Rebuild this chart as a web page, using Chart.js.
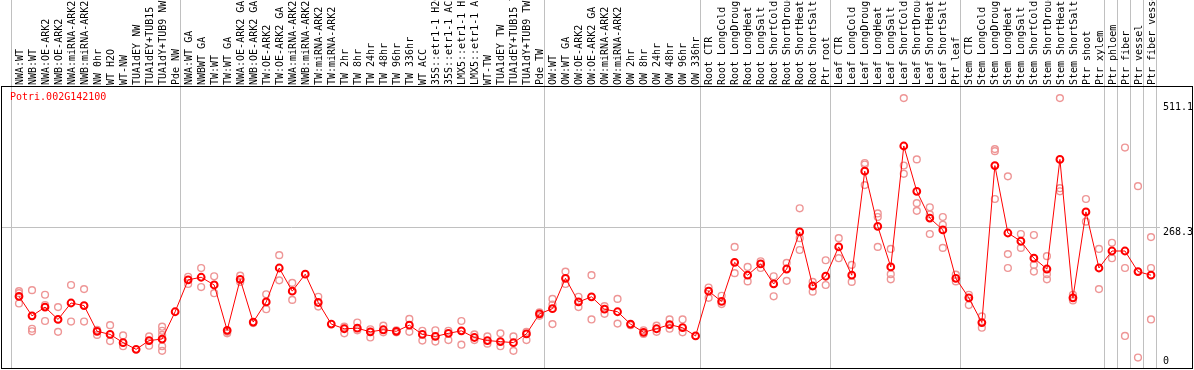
<!DOCTYPE html>
<html><head><meta charset="utf-8">
<script src="https://cdn.jsdelivr.net/npm/chart.js@4"></script>
<style>html,body{margin:0;padding:0;background:#fff}#wrap{width:1194px;height:370px}</style>
</head><body><div id="wrap"><canvas id="c" width="1194" height="370"></canvas></div>
<script>
const geneName = 'Potri.002G142100';
const categories = [
 'NWA:WT','NWB:WT','NWA:OE-ARK2','NWB:OE-ARK2','NWA:miRNA-ARK2','NWB:miRNA-ARK2','NW 0hr','WT H2O','WT-NW','TUA1dEY NW','TUA1dEY+TUB15 NW','TUA1dY+TUB9 NW','Pde NW',
 'NWA:WT GA','NWBWT GA','TW:WT','TW:WT GA','NWA:OE-ARK2 GA','NWB:OE-ARK2 GA','TW:OE-ARK2','TW:OE-ARK2 GA','NWA:miRNA-ARK2','NWB:miRNA-ARK2','TW:miRNA-ARK2','TW:miRNA-ARK2',
 'TW 2hr','TW 8hr','TW 24hr','TW 48hr','TW 96hr','TW 336hr','WT ACC','35S::etr1-1 H2O','35S::etr1-1 ACC','LMX5::etr1-1 H2O','LMX5::etr1-1 ACC','WT-TW','TUA1dEY TW','TUA1dEY+TUB15 TW','TUA1dY+TUB9 TW','Pde TW',
 'OW:WT','OW:WT GA','OW:OE-ARK2','OW:OE-ARK2 GA','OW:miRNA-ARK2','OW:miRNA-ARK2','OW 2hr','OW 8hr','OW 24hr','OW 48hr','OW 96hr','OW 336hr',
 'Root CTR','Root LongCold','Root LongDrought','Root LongHeat','Root LongSalt','Root ShortCold','Root ShortDrought','Root ShortHeat','Root ShortSalt','Ptr root',
 'Leaf CTR','Leaf LongCold','Leaf LongDrought','Leaf LongHeat','Leaf LongSalt','Leaf ShortCold','Leaf ShortDrought','Leaf ShortHeat','Leaf ShortSalt','Ptr leaf',
 'Stem CTR','Stem LongCold','Stem LongDrought','Stem LongHeat','Stem LongSalt','Stem ShortCold','Stem ShortDrought','Stem ShortHeat','Stem ShortSalt','Ptr shoot',
 'Ptr xylem','Ptr phloem','Ptr fiber','Ptr vessel','Ptr fiber vessel'
];
const means = [
 135,97,114,90,122,117,67,61,45,32,49,52,105,
 167,172,157,69,168,85,124,190,145,178,123,81,
 72,73,66,70,67,79,61,57,63,68,55,49,47,45,62,101,
 111,170,124,134,110,105,81,65,72,80,74,58,
 145,125,201,176,198,159,188,260,155,174,
 231,176,378,271,192,427,339,287,264,170,
 132,84,389,258,242,209,188,401,132,299,
 190,223,223,183,176
];
const replicates = [
 [145,141,121],[147,72,67],[138,118,87],[114,66],[157,86],[149,86],[70,60],[79,48],[59,38],[],[57,39],[76,68,60,38,29],[],
 [159,173],[190,153],[174,141],[63,66],[175,163],[83],[139,110],[215,166],[161,128],[],[134,115],[],
 [76,63],[84,69],[71,55],[78,65],[69,65],[91,66],[68,49],[69,47],[68,50],[87,41],[61,50],[57,43],[63,38],[57,29],[66,50],[104,97],
 [130,81,119],[183,159],[134,114],[176,90],[116,101],[130,82],[79],[69,62],[78,66],[90,72],[90,65],[],
 [152,132],[136,120],[231,180],[192,164],[203,190],[174,135],[200,165],[306,225,248],[163,144],[205,157],
 [248,209],[196,163],[394,391,351],[296,231,289],[227,178,168],[520,389,373],[401,316,301],[308,294,256],[289,274,229],[177,164],
 [138,118],[96,74],[421,417,324],[368,217,190],[256,229],[254,196,183],[213,178,168],[520,345,339],[138,127],[324,280],
 [227,149],[239,209],[424,190,58],[349,16],[250,190,90]
];
const groupStarts = [0,13,41,53,63,73,84,85,86,87,88];
const yTickValues = [0, 268.3, 511.1];
const yTickLabels = ['0','268.3','511.1'];

const FONT = 'DejaVu Sans Mono';
const meanPoints = means.map((v,i)=>({x:i,y:v}));
const repPoints = [];
replicates.forEach((arr,i)=>arr.forEach(v=>repPoints.push({x:i,y:v})));

function noPad(a){ a.paddingTop = 0; a.paddingBottom = 0; a.paddingLeft = 0; a.paddingRight = 0; }

const decor = {
  id:'decor',
  beforeDraw(chart){
    const c = chart.ctx, xs = chart.scales.x, a = chart.chartArea;
    c.save();
    c.strokeStyle = '#c0c0c0'; c.lineWidth = 1;
    groupStarts.forEach(s=>{
      const px = Math.round(xs.getPixelForValue(s - 0.65)) + 0.5;
      c.beginPath(); c.moveTo(px, 0); c.lineTo(px, a.bottom); c.stroke();
    });
    c.restore();
  },
  afterDraw(chart){
    const c = chart.ctx;
    c.save();
    c.strokeStyle = '#000'; c.lineWidth = 1;
    c.strokeRect(1.5, 86.5, 1191, 282);
    c.fillStyle = '#ff0000';
    c.font = '10px "' + FONT + '"';
    c.textBaseline = 'middle'; c.textAlign = 'left';
    c.fillText(geneName, 10, 97);
    c.restore();
  }
};

new Chart(document.getElementById('c'), {
  type:'line',
  data:{datasets:[
    {type:'line', data:meanPoints, borderColor:'#ff0000', borderWidth:1, pointRadius:3.4, pointBorderWidth:2,
     pointBackgroundColor:'rgba(0,0,0,0)', pointBorderColor:'#ff0000', tension:0},
    {type:'scatter', data:repPoints, showLine:false, pointRadius:3.4, pointBorderWidth:1.4,
     pointBorderColor:'#ee9696', pointBackgroundColor:'rgba(0,0,0,0)'}
  ]},
  options:{
    responsive:false, animation:false, devicePixelRatio:1,
    layout:{autoPadding:false, padding:{left:2,right:0,top:0,bottom:2}},
    plugins:{legend:{display:false}, tooltip:{enabled:false}},
    scales:{
      x:{type:'linear', position:'top', min:-1.3066, max:87.6917,
        afterBuildTicks:a=>{a.ticks = categories.map((_,i)=>({value:i}));},
        afterFit:a=>{a.height = 87; noPad(a);},
        grid:{display:false, drawTicks:false}, border:{display:false},
        ticks:{autoSkip:false, minRotation:90, maxRotation:90, padding:2, labelOffset:13, color:'#000',
          font:{family:FONT, size:10}, callback:v=>categories[v]}
      },
      y:{position:'right', min:-4.27, max:541.6,
        afterBuildTicks:a=>{a.ticks = yTickValues.map(v=>({value:v}));},
        afterFit:a=>{a.width = 34; noPad(a);},
        grid:{color:ctx=>(ctx.tick && ctx.tick.value===yTickValues[1]) ? '#c0c0c0' : 'rgba(0,0,0,0)', drawTicks:false},
        border:{display:false},
        ticks:{padding:3, color:'#000', font:{family:FONT, size:10, lineHeight:0.9},
          callback:(v,i)=> i===0 ? [yTickLabels[i], ''] : ['', yTickLabels[i]]}
      }
    }
  },
  plugins:[decor]
});
</script></body></html>
